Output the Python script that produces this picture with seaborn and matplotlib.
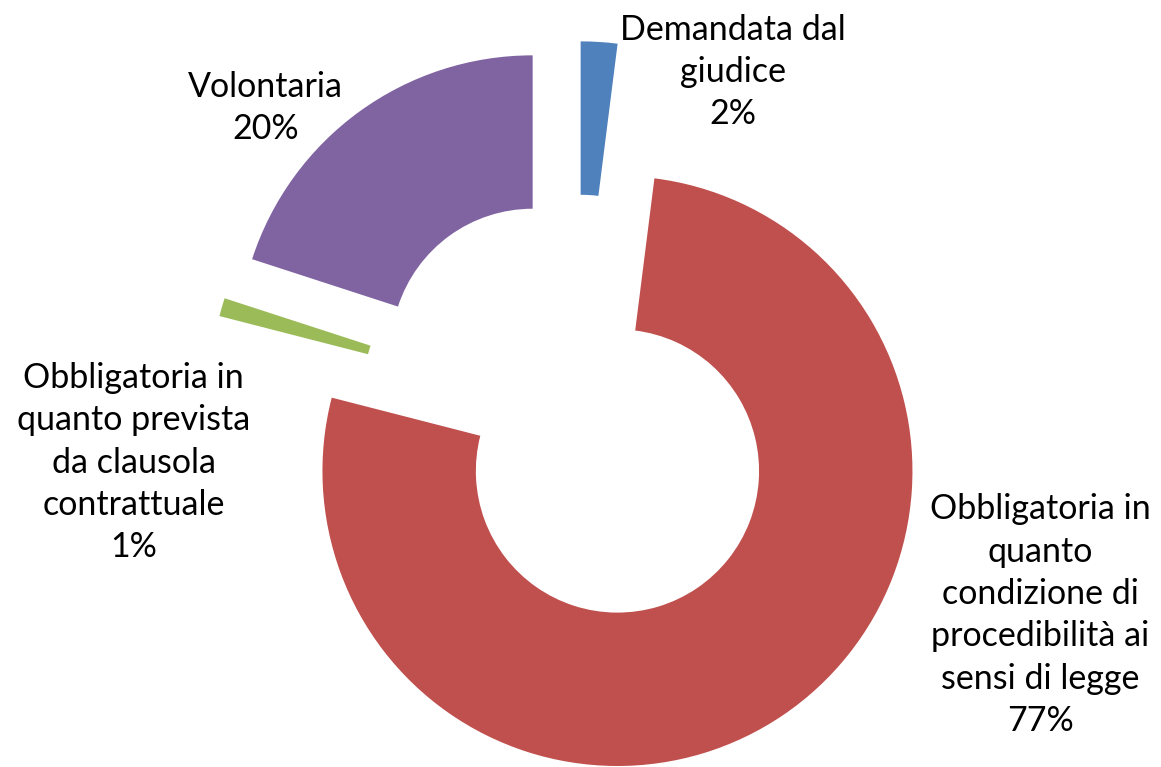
import numpy as np
import seaborn as sns
import matplotlib.pyplot as plt

# ===== data =====
categories = [
    "Demandata dal\ngiudice",
    "Obbligatoria in\nquanto\ncondizione di\nprocedibilità ai\nsensi di legge",
    "Obbligatoria in\nquanto prevista\nda clausola\ncontrattuale",
    "Volontaria",
]
shares = [2, 77, 1, 20]
colors = ["#4F81BD", "#C0504D", "#9BBB59", "#8064A2"]

# label centres in axes fraction (x, y)
label_pos = [(0.631, 0.906), (0.896, 0.198), (0.115, 0.397), (0.229, 0.859)]

sns.set_theme(style="white")
plt.rcParams['font.family'] = ['Lato', 'DejaVu Sans']

fig = plt.figure(figsize=(11.61, 7.67), dpi=100)
ax = fig.add_axes([0, 0, 1, 1])

ax.pie(
    shares,
    colors=colors,
    startangle=90,
    counterclock=False,
    explode=[0.25] * len(shares),
    wedgeprops=dict(width=0.52, linewidth=0),
)

# scale: 1 data unit = 295 px, centre at pixel (576, 410)
ax.set_xlim(-576 / 295, (1161 - 576) / 295)
ax.set_ylim((410 - 767) / 295, 410 / 295)
ax.set_aspect('equal')
ax.axis('off')

for cat, val, (x, y) in zip(categories, shares, label_pos):
    ax.text(x, y, f"{cat}\n{val}%", transform=ax.transAxes,
            ha='center', va='center', fontsize=24.5, color='black',
            linespacing=1.4)

plt.savefig("out.png", dpi=100)
